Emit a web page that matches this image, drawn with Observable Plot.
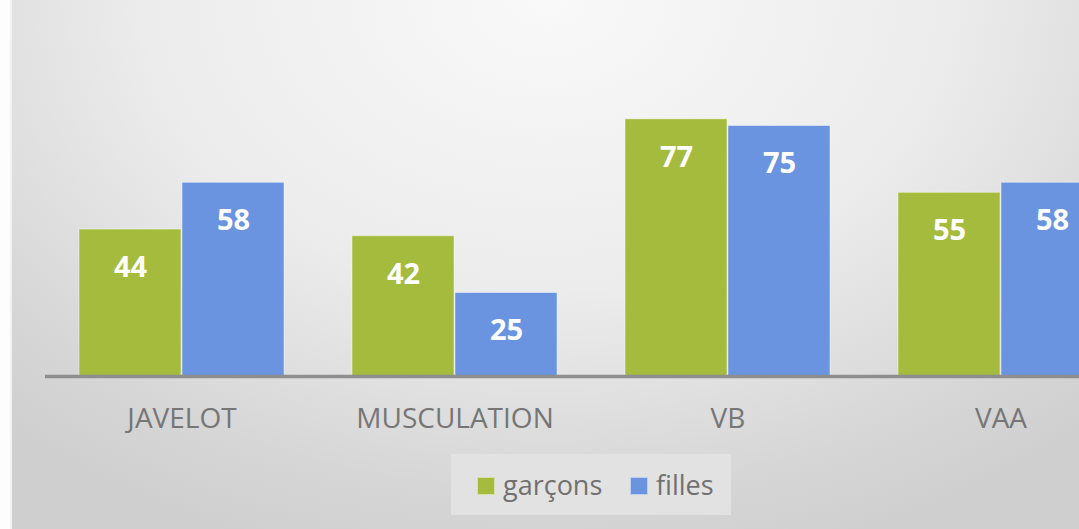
<!DOCTYPE html>
<html>
<head>
<meta charset="utf-8">
<script src="https://cdn.jsdelivr.net/npm/d3@7"></script>
<script src="https://cdn.jsdelivr.net/npm/@observablehq/plot@0.6"></script>
<style>
  html, body { margin: 0; padding: 0; width: 1079px; height: 529px; overflow: hidden; background: #fdfdfd; }
  #bg { position: absolute; left: 10px; top: 0; width: 1069px; height: 529px;
        background: radial-gradient(ellipse 75% 110% at 50% 0%, #f9f9f9 0%, #ececec 50%, #d6d6d6 85%, #cfcfcf 100%);
        border-left: 2px solid #f2f2f2; }
  #chart { position: absolute; left: 0; top: 0; width: 1137px; height: 529px; }
  #chart svg { background: transparent; max-width: none !important; }
  #legend { position: absolute; left: 451px; top: 454px; width: 280px; height: 61px; background: #e2e2e2;
            font-family: "Open Sans", sans-serif; font-size: 27px; color: #707070; }
  .item { position: absolute; top: 0; height: 61px; display: flex; align-items: center; }
  .sw { width: 16px; height: 16px; border: 1px solid rgba(255,255,255,0.55); margin-right: 8px; margin-top: 2px; }
</style>
</head>
<body>
<div id="bg"></div>
<div id="chart"></div>
<div id="legend"></div>
<script>
const categories = ["JAVELOT", "MUSCULATION", "VB", "VAA"];
const series = ["garçons", "filles"];
const garcons = [44, 42, 77, 55];
const filles = [58, 25, 75, 58];
const colors = ["#a5bb3e", "#6a94e0"];

const dataG = categories.map((c, i) => ({category: c, value: garcons[i]}));
const dataF = categories.map((c, i) => ({category: c, value: filles[i]}));

const plot = Plot.plot({
  width: 1137,
  height: 529,
  marginLeft: 45,
  marginRight: 0,
  marginTop: 42,
  marginBottom: 153,
  style: {background: "transparent", fontFamily: "Open Sans, sans-serif", maxWidth: "none"},
  x: {domain: categories, paddingInner: 0.249, paddingOuter: 0.1245, round: false, label: null},
  y: {domain: [0, 100], axis: null},
  marks: [
    Plot.barY(dataG, {x: "category", y: "value", fill: colors[0], insetRight: 103,
      stroke: "#ffffff", strokeOpacity: 0.45, strokeWidth: 1}),
    Plot.barY(dataF, {x: "category", y: "value", fill: colors[1], insetLeft: 103,
      stroke: "#ffffff", strokeOpacity: 0.45, strokeWidth: 1}),
    Plot.ruleY([0], {stroke: "#8e8e8e", strokeWidth: 3.5}),
    Plot.text(dataG, {x: "category", y: "value", text: d => String(d.value), dx: -51.5, dy: 38,
      fill: "white", fontSize: 29, fontWeight: "bold", lineAnchor: "middle"}),
    Plot.text(dataF, {x: "category", y: "value", text: d => String(d.value), dx: 51.5, dy: 38,
      fill: "white", fontSize: 29, fontWeight: "bold", lineAnchor: "middle"}),
    Plot.axisX({tickSize: 0, tickPadding: 32, fontSize: 28, fill: "#767676", label: null})
  ]
});
plot.style.maxWidth = "none";
document.getElementById("chart").appendChild(plot);

const legend = document.getElementById("legend");
const lefts = [26, 179];
series.forEach((s, i) => {
  const item = document.createElement("div");
  item.className = "item";
  item.style.left = lefts[i] + "px";
  const sw = document.createElement("div");
  sw.className = "sw";
  sw.style.background = colors[i];
  const t = document.createElement("span");
  t.textContent = s;
  item.appendChild(sw);
  item.appendChild(t);
  legend.appendChild(item);
});
</script>
</body>
</html>
